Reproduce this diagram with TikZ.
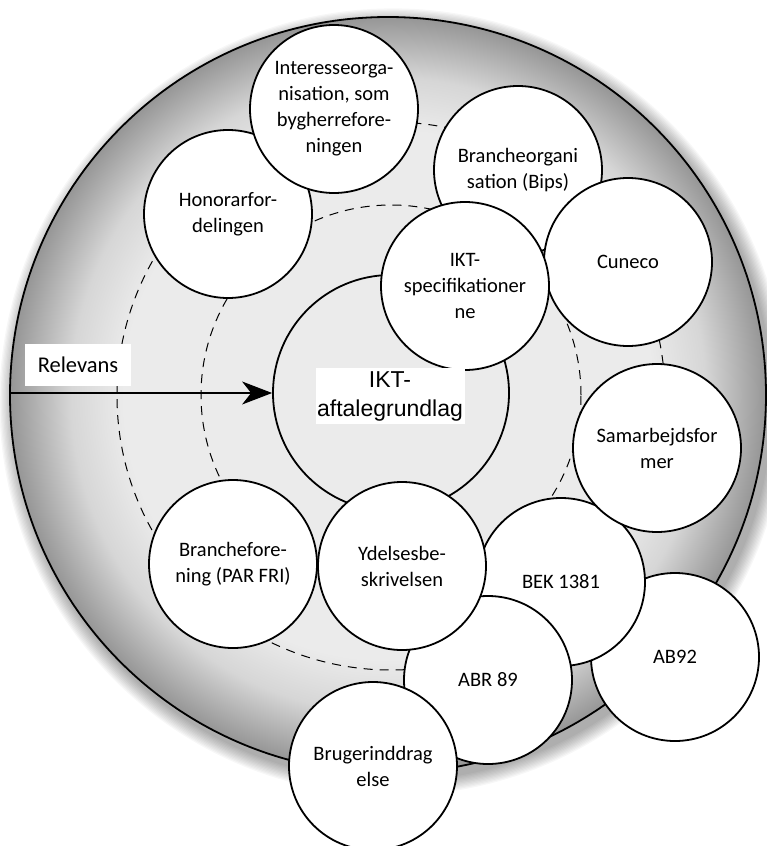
\documentclass[tikz,border=0pt]{standalone}
\usepackage{fontspec}
\setmainfont{Carlito}
\newfontfamily\arialfont{Liberation Sans}
\usetikzlibrary{arrows.meta}

\definecolor{ringlight}{RGB}{235,235,235}
\definecolor{ringmid}{RGB}{214,214,214}
\definecolor{ringdark}{RGB}{150,150,150}
\pgfdeclareradialshading{ringshade}{\pgfpoint{0bp}{0bp}}{%
  color(0bp)=(ringlight); color(17.5bp)=(ringlight); color(21bp)=(ringmid);
  color(25bp)=(ringdark); color(50bp)=(ringdark)}

\begin{document}
\begin{tikzpicture}[x=1pt,y=-1pt,
  bubble/.style={circle, draw=black, line width=1.8pt, fill=white,
    minimum size=168pt, inner sep=0pt, align=center,
    font=\fontsize{20.5}{26}\selectfont},
  ring/.style={draw=black, line width=1pt, dash pattern=on 9pt off 7pt},
  relarrow/.style={draw=black, line width=1.3pt,
    -{Stealth[length=30pt,width=23pt,inset=9pt]}},
  labelbox/.style={fill=white, inner sep=0pt, align=center}
]
\useasboundingbox (0,0) rectangle (766,846);

% soft drop shadow under the outer disc
\foreach \k in {1,...,12}{
  \fill[black, opacity=0.03] (393,402) circle ({378pt+\k*1.3pt});
}

% outer disc with radial shading
\node[circle, minimum size=756pt, inner sep=0pt, shade, shading=ringshade,
      draw=black, line width=1.8pt] (outer) at (388,395) {};

% dashed relevance rings
\draw[ring] (391,395) circle (190pt);
\draw[ring] (391,396) circle (274pt);

% central circle
\node[circle, draw=black, line width=1.8pt, minimum size=236pt, inner sep=0pt]
  (main) at (391,393) {};

% surrounding bubbles, back to front
\node[bubble] (honorar)   at (228,214) {Honorarfor-\\delingen};
\node[bubble] (interesse) at (334,109) {Interesseorga-\\nisation, som\\bygherrefore-\\ningen};
\node[bubble] (bips)      at (518,170) {Brancheorgani\\sation (Bips)};
\node[bubble] (cuneco)    at (628,262) {Cuneco};
\node[bubble] (iktspec)   at (465,286) {IKT-\\specifikationer\\ne};
\node[bubble] (ab92)      at (675,657) {AB92};
\node[bubble] (bek)       at (561,582) {BEK 1381};
\node[bubble] (samarb)    at (657,448) {Samarbejdsfor\\mer};
\node[bubble] (abr)       at (488,680) {ABR 89};
\node[bubble] (branche)   at (233,564) {Branchefore-\\ning (PAR FRI)};
\node[bubble] (ydelse)    at (402,566) {Ydelsesbe-\\skrivelsen};
\node[bubble] (bruger)    at (373,766) {Brugerinddrag\\else};

% relevance label and arrow
\node[labelbox, minimum width=106pt, minimum height=42pt,
      font=\fontsize{22.5}{26}\selectfont] (relevans) at (78,365) {Relevans};
\draw[relarrow] (main.west -| outer.west) -- (main.west);

% centre label
\node[labelbox, minimum width=149pt, minimum height=56pt,
      font=\arialfont\fontsize{23}{29}\selectfont] (ikt) at (390,396)
  {\raisebox{-2pt}{IKT-}\\\raisebox{-2pt}{aftalegrundlag}};
\end{tikzpicture}
\end{document}
